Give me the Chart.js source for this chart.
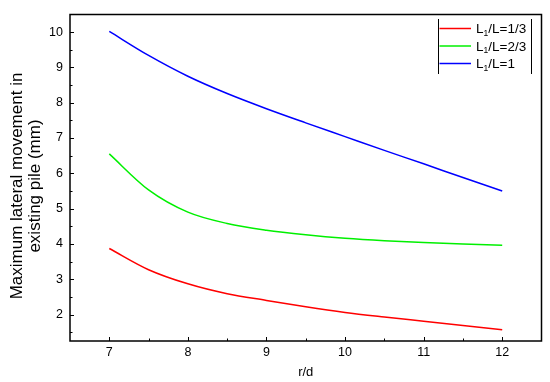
<!DOCTYPE html>
<html>
<head>
<meta charset="utf-8">
<script src="https://cdn.jsdelivr.net/npm/chart.js@4/dist/chart.umd.min.js"></script>
<style>
html,body{margin:0;padding:0;background:#fff;}
#wrap{width:550px;height:382px;position:relative;}
</style>
</head>
<body>
<div id="wrap"><canvas id="c" width="550" height="382"></canvas></div>
<script>
// ---- data ----
const rdValues = [7, 7.5, 8, 8.5, 9, 9.5, 10, 10.5, 11, 11.5, 12];
const seriesOneThird = [3.87, 3.27, 2.87, 2.59, 2.40, 2.22, 2.06, 1.93, 1.81, 1.69, 1.57];
const seriesTwoThird = [6.55, 5.53, 4.90, 4.58, 4.39, 4.26, 4.16, 4.09, 4.04, 4.00, 3.96];
const seriesOne = [10.02, 9.34, 8.75, 8.26, 7.83, 7.43, 7.04, 6.65, 6.27, 5.88, 5.50];
const seriesNames = [["L", "1", "/L=1/3"], ["L", "1", "/L=2/3"], ["L", "1", "/L=1"]];
const xTickValues = [7, 8, 9, 10, 11, 12];
const xMinorTicks = [7.5, 8.5, 9.5, 10.5, 11.5];
const yTickValues = [2, 3, 4, 5, 6, 7, 8, 9, 10];
const yMinorTicks = [1.5, 2.5, 3.5, 4.5, 5.5, 6.5, 7.5, 8.5, 9.5];
const xTitle = "r/d";
const yTitle = ["Maximum lateral movement in", "existing pile (mm)"];

const FONT = "'Liberation Sans', Arial, sans-serif";

function toPts(ys){ return rdValues.map((x,i)=>({x:x, y:ys[i]})); }

const colors = ['#ff0000', '#00f000', '#0000ff'];
const datasets = [seriesOneThird, seriesTwoThird, seriesOne].map((d,i)=>({
  label: seriesNames[i].join(''),
  data: toPts(d),
  borderColor: colors[i],
  backgroundColor: colors[i],
  borderWidth: 1.5,
  pointRadius: 0,
  cubicInterpolationMode: 'monotone',
  fill: false
}));

const decor = {
  id: 'decor',
  beforeDraw(chart){
    const ctx = chart.ctx;
    ctx.save();
    ctx.fillStyle = '#fff';
    ctx.fillRect(0,0,chart.width,chart.height);
    ctx.restore();
  },
  afterDatasetsDraw(chart){
    const ctx = chart.ctx;
    const a = chart.chartArea;
    const xs = chart.scales.x, ys = chart.scales.y;
    ctx.save();
    // frame
    ctx.strokeStyle = '#000';
    ctx.lineWidth = 1.5;
    ctx.strokeRect(a.left, a.top, a.right - a.left, a.bottom - a.top);
    // inward ticks
    ctx.lineWidth = 1;
    ctx.beginPath();
    xTickValues.forEach(v=>{ const p = Math.round(xs.getPixelForValue(v))+0.5; ctx.moveTo(p, a.bottom); ctx.lineTo(p, a.bottom-4); });
    xMinorTicks.forEach(v=>{ const p = Math.round(xs.getPixelForValue(v))+0.5; ctx.moveTo(p, a.bottom); ctx.lineTo(p, a.bottom-2.5); });
    yTickValues.forEach(v=>{ const p = Math.round(ys.getPixelForValue(v))+0.5; ctx.moveTo(a.left, p); ctx.lineTo(a.left+4, p); });
    yMinorTicks.forEach(v=>{ const p = Math.round(ys.getPixelForValue(v))+0.5; ctx.moveTo(a.left, p); ctx.lineTo(a.left+2.5, p); });
    ctx.stroke();

    // axis titles
    ctx.fillStyle = '#000';
    ctx.font = '13px ' + FONT;
    ctx.textAlign = 'center';
    ctx.textBaseline = 'middle';
    ctx.fillText(xTitle, (a.left + a.right)/2, 372);

    ctx.save();
    ctx.translate(26, 186);
    ctx.rotate(-Math.PI/2);
    ctx.font = '17px ' + FONT;
    ctx.fillText(yTitle[0], 0, -9);
    ctx.fillText(yTitle[1], 0, 9.5);
    ctx.restore();

    // legend
    const lx = 438, rx = 531, ty = 19, by = 74;
    ctx.strokeStyle = '#000';
    ctx.lineWidth = 1;
    ctx.beginPath();
    ctx.moveTo(lx+0.5, ty); ctx.lineTo(lx+0.5, by);
    ctx.moveTo(rx+0.5, ty); ctx.lineTo(rx+0.5, by);
    ctx.stroke();
    const rowY = [28.5, 46, 63.5];
    chart.data.datasets.forEach((ds, i)=>{
      const y = rowY[i];
      ctx.strokeStyle = ds.borderColor;
      ctx.lineWidth = 1.5;
      ctx.beginPath();
      ctx.moveTo(439.5, y); ctx.lineTo(471, y);
      ctx.stroke();
      const parts = seriesNames[i];
      ctx.fillStyle = '#000';
      ctx.textAlign = 'left';
      ctx.textBaseline = 'alphabetic';
      let x = 476;
      const base = y + 4.5;
      ctx.font = '13.5px ' + FONT;
      ctx.fillText(parts[0], x, base); x += ctx.measureText(parts[0]).width;
      ctx.font = '8.5px ' + FONT;
      ctx.fillText(parts[1], x, base + 2.5); x += ctx.measureText(parts[1]).width;
      ctx.font = '13.5px ' + FONT;
      ctx.fillText(parts[2], x, base);
    });
    ctx.restore();
  }
};

new Chart(document.getElementById('c'), {
  type: 'line',
  data: { datasets },
  options: {
    responsive: false,
    animation: false,
    devicePixelRatio: 1,
    layout: { padding: { top: 12, right: 8.5, left: 0, bottom: 0 } },
    plugins: { legend: { display: false }, tooltip: { enabled: false } },
    scales: {
      x: {
        type: 'linear',
        min: 6.5, max: 12.5,
        afterBuildTicks(s){ s.ticks = xTickValues.map(v=>({value:v})); },
        afterFit(s){ s.height = 41; },
        grid: { display: false, drawTicks: false },
        border: { display: false },
        ticks: { color: '#000', font: { family: FONT, size: 12.5 }, padding: 4 }
      },
      y: {
        type: 'linear',
        min: 1.25, max: 10.5,
        afterBuildTicks(s){ s.ticks = yTickValues.map(v=>({value:v})); },
        afterFit(s){ s.width = 70; },
        grid: { display: false, drawTicks: false },
        border: { display: false },
        ticks: { color: '#000', font: { family: FONT, size: 12.5 }, padding: 7 }
      }
    }
  },
  plugins: [decor]
});
</script>
</body>
</html>
